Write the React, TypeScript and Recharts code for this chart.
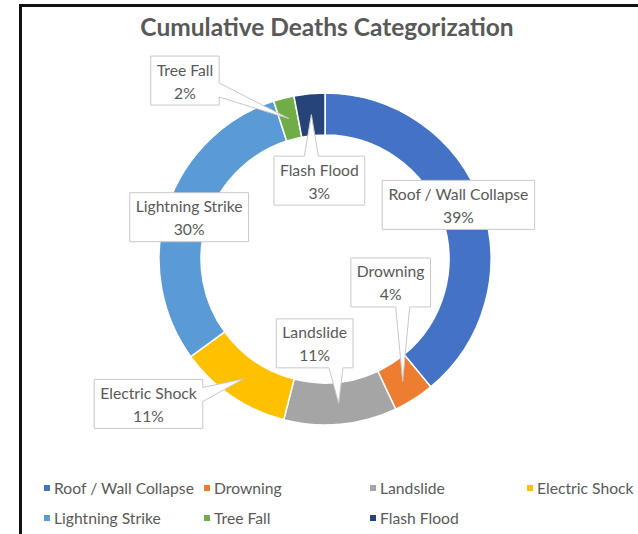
import React from "react";
import { Cell, Legend, Pie, PieChart } from "recharts";

const categories = [
  "Roof / Wall Collapse",
  "Drowning",
  "Landslide",
  "Electric Shock",
  "Lightning Strike",
  "Tree Fall",
  "Flash Flood",
];
const shares = [39, 4, 11, 11, 30, 2, 3];
const colors = [
  "#4472C4",
  "#ED7D31",
  "#A5A5A5",
  "#FFC000",
  "#5B9BD5",
  "#70AD47",
  "#264478",
];

// callout box offset from the middle of its slice, and whether it has a tail
const labelOffsets: [number, number, boolean][] = [
  [-3, -5, false],
  [-12, -99, true],
  [-24, -60, true],
  [-95, 25, true],
  [2, 3, false],
  [-104, -38, true],
  [8, 66, true],
];

const FONT = "Lato, 'Open Sans', sans-serif";
const TEXT = "#595959";
const LABEL_SIZE = 15.7;

const data = categories.map((name, i) => ({ name, value: shares[i] }));

let ctx: CanvasRenderingContext2D | null = null;
function textWidth(s: string, size: number) {
  if (!ctx) ctx = document.createElement("canvas").getContext("2d");
  if (!ctx) return s.length * size * 0.5;
  ctx.font = `${size}px Lato`;
  return ctx.measureText(s).width;
}

function calloutPath(
  x0: number,
  y0: number,
  x1: number,
  y1: number,
  tx: number,
  ty: number,
  tail: boolean
) {
  if (!tail) return `M${x0},${y0}H${x1}V${y1}H${x0}Z`;
  const out = {
    top: y0 - ty,
    bottom: ty - y1,
    left: x0 - tx,
    right: tx - x1,
  };
  const side = (Object.keys(out) as (keyof typeof out)[]).reduce((a, b) =>
    out[b] > out[a] ? b : a
  );
  const half = 7;
  const clamp = (v: number, lo: number, hi: number) =>
    Math.max(lo, Math.min(hi, v));
  if (side === "top" || side === "bottom") {
    const c = clamp(tx, x0 + 10 + half, x1 - 10 - half);
    const b1 = c - half;
    const b2 = c + half;
    if (side === "top")
      return `M${x0},${y0}H${b1}L${tx},${ty}L${b2},${y0}H${x1}V${y1}H${x0}Z`;
    return `M${x0},${y0}H${x1}V${y1}H${b2}L${tx},${ty}L${b1},${y1}H${x0}Z`;
  }
  const c = clamp(ty, y0 + 8 + half, y1 - 8 - half);
  const b1 = c - half;
  const b2 = c + half;
  if (side === "right")
    return `M${x0},${y0}H${x1}V${b1}L${tx},${ty}L${x1},${b2}V${y1}H${x0}Z`;
  return `M${x0},${y0}H${x1}V${y1}H${x0}V${b2}L${tx},${ty}L${x0},${b1}Z`;
}

function CalloutLabel(props: any) {
  const { cx, cy, midAngle, innerRadius, outerRadius, percent, name } = props;
  const idx = typeof props.index === "number" ? props.index : categories.indexOf(name);
  const r = (innerRadius + outerRadius) / 2;
  const rad = (-midAngle * Math.PI) / 180;
  const px = cx + r * Math.cos(rad);
  const py = cy + r * Math.sin(rad);
  const [dx, dy, tail] = labelOffsets[idx];
  const bx = px + dx;
  const by = py + dy;
  const line1 = categories[idx];
  const line2 = `${Math.round(percent * 100)}%`;
  const w = Math.max(textWidth(line1, LABEL_SIZE), textWidth(line2, LABEL_SIZE)) + 12;
  const h = 49;
  const x0 = bx - w / 2;
  const y0 = by - h / 2;
  return (
    <g>
      <path
        d={calloutPath(x0, y0, x0 + w, y0 + h, px, py, tail)}
        fill="#fff"
        stroke="#c9c9c9"
        strokeWidth={1}
      />
      <text
        x={bx}
        y={by - 11}
        textAnchor="middle"
        dominantBaseline="central"
        fontFamily={FONT}
        fontSize={LABEL_SIZE}
        fill={TEXT}
      >
        {line1}
      </text>
      <text
        x={bx}
        y={by + 12}
        textAnchor="middle"
        dominantBaseline="central"
        fontFamily={FONT}
        fontSize={LABEL_SIZE}
        fill={TEXT}
      >
        {line2}
      </text>
    </g>
  );
}

function LegendRows() {
  return (
    <div
      style={{
        display: "grid",
        gridTemplateColumns: "160px 166px 157px auto",
        rowGap: 10,
        paddingLeft: 44,
        fontFamily: FONT,
        fontSize: LABEL_SIZE,
        color: TEXT,
        lineHeight: "20px",
      }}
    >
      {categories.map((c, i) => (
        <div key={c} style={{ display: "flex", alignItems: "center", whiteSpace: "nowrap" }}>
          <span
            style={{
              display: "inline-block",
              width: 6,
              height: 6,
              background: colors[i],
              marginRight: 4,
            }}
          />
          {c}
        </div>
      ))}
    </div>
  );
}

export default function App() {
  return (
    <div
      style={{
        position: "absolute",
        left: 0,
        top: 0,
        width: 638,
        height: 534,
        background: "#fff",
        overflow: "hidden",
      }}
    >
      <div
        style={{
          position: "absolute",
          left: 19,
          top: 4,
          width: 640,
          height: 540,
          borderLeft: "3px solid #111",
          borderTop: "3px solid #111",
        }}
      />
      <div
        style={{
          position: "absolute",
          left: 0,
          top: 12,
          width: 654,
          textAlign: "center",
          fontFamily: FONT,
          fontWeight: 700,
          fontSize: 24.5,
          color: TEXT,
        }}
      >
        Cumulative Deaths Categorization
      </div>
      <div style={{ position: "absolute", left: 0, top: 0 }}>
        <PieChart width={638} height={534} margin={{ top: 0, right: 0, bottom: 0, left: 0 }}>
          <Pie
            data={data}
            dataKey="value"
            nameKey="name"
            cx={325}
            cy={259}
            innerRadius={124}
            outerRadius={166}
            startAngle={90}
            endAngle={-270}
            stroke="#fff"
            strokeWidth={1.5}
            label={CalloutLabel}
            labelLine={false}
            isAnimationActive={false}
          >
            {data.map((d, i) => (
              <Cell key={d.name} fill={colors[i]} />
            ))}
          </Pie>
          <Legend
            content={() => <LegendRows />}
            wrapperStyle={{ position: "absolute", left: 0, top: 478, width: 638 }}
          />
        </PieChart>
      </div>
    </div>
  );
}
